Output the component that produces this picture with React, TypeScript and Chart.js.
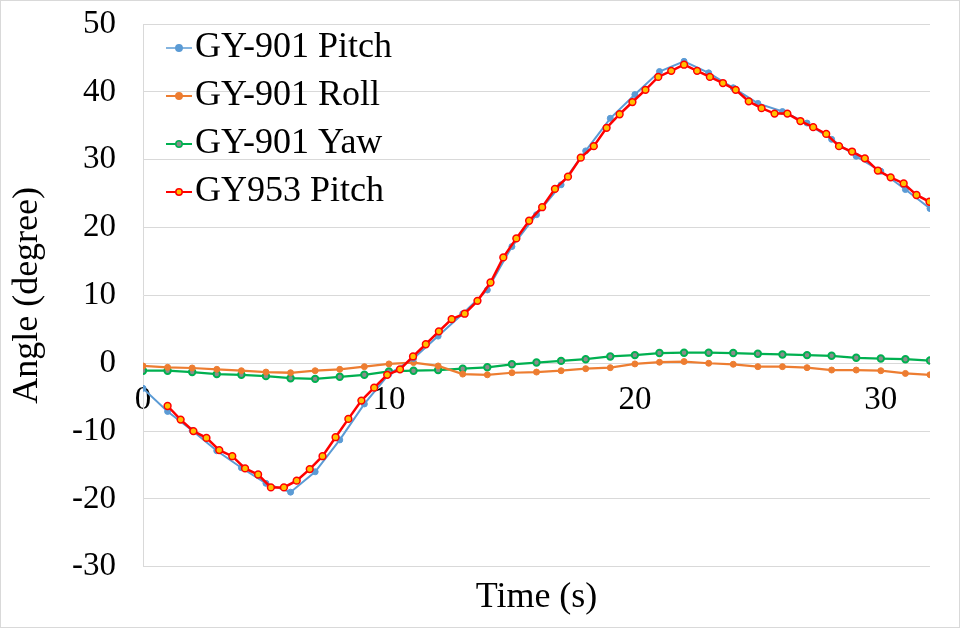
import React, { useEffect, useRef } from "react";
import Chart from "chart.js/auto";

// GY-901 samples, one per second
const timeS = [0, 1, 2, 3, 4, 5, 6, 7, 8, 9, 10, 11, 12, 13, 14, 15, 16, 17, 18, 19, 20, 21, 22, 23, 24, 25, 26, 27, 28, 29, 30, 31, 32];
const pitch901 = [-3.7, -7.1, -9.9, -12.9, -15.4, -17.7, -19.0, -16.0, -11.3, -6.0, -1.6, 0.7, 4.0, 7.3, 10.8, 17.2, 21.9, 26.3, 31.3, 36.1, 39.6, 43.0, 44.5, 42.8, 40.6, 38.3, 37.1, 35.4, 33.0, 30.5, 28.3, 25.6, 22.8];
const roll901 = [-0.4, -0.6, -0.7, -0.9, -1.1, -1.3, -1.4, -1.1, -0.9, -0.5, -0.1, 0.1, -0.4, -1.6, -1.7, -1.4, -1.3, -1.1, -0.8, -0.65, -0.1, 0.15, 0.25, 0.0, -0.15, -0.5, -0.5, -0.65, -1.0, -1.0, -1.1, -1.5, -1.7];
const yaw901 = [-1.1, -1.1, -1.3, -1.6, -1.7, -1.9, -2.2, -2.3, -2.0, -1.7, -1.2, -1.1, -1.0, -0.8, -0.6, -0.15, 0.1, 0.35, 0.6, 1.0, 1.2, 1.5, 1.55, 1.55, 1.5, 1.4, 1.3, 1.2, 1.1, 0.8, 0.7, 0.6, 0.4];

// GY953 samples (faster rate)
const time953 = [1.0, 1.53, 2.05, 2.58, 3.1, 3.63, 4.15, 4.68, 5.2, 5.73, 6.25, 6.78, 7.3, 7.83, 8.35, 8.88, 9.4, 9.93, 10.45, 10.98, 11.5, 12.03, 12.55, 13.08, 13.6, 14.13, 14.65, 15.18, 15.7, 16.23, 16.75, 17.28, 17.8, 18.33, 18.85, 19.38, 19.9, 20.43, 20.95, 21.48, 22.0, 22.53, 23.05, 23.58, 24.1, 24.63, 25.15, 25.68, 26.2, 26.73, 27.25, 27.78, 28.3, 28.83, 29.35, 29.88, 30.4, 30.93, 31.45, 31.98];
const pitch953 = [-6.3, -8.3, -10.0, -11.0, -12.8, -13.7, -15.5, -16.4, -18.3, -18.3, -17.3, -15.6, -13.7, -10.9, -8.2, -5.5, -3.6, -1.7, -0.9, 1.0, 2.8, 4.7, 6.5, 7.3, 9.2, 11.9, 15.6, 18.4, 21.0, 23.0, 25.7, 27.5, 30.3, 32.0, 34.7, 36.7, 38.5, 40.3, 42.2, 43.1, 44.0, 43.1, 42.2, 41.3, 40.3, 38.6, 37.6, 36.8, 36.8, 35.7, 34.8, 33.8, 32.0, 31.2, 30.2, 28.4, 27.4, 26.5, 24.8, 23.8];

const xTicks = [0, 10, 20, 30];
const yTicks = [-30, -20, -10, 0, 10, 20, 30, 40, 50];

const SERIF = '"Liberation Serif", "Times New Roman", serif';
const GRID = "#d9d9d9";

// small line + marker picture for the legend
function legendMarker(line: string, fill: string, border: string, lw: number) {
  const c = document.createElement("canvas");
  c.width = 70;
  c.height = 14;
  const g = c.getContext("2d")!;
  const cx = 42;
  g.strokeStyle = line;
  g.lineWidth = lw;
  g.beginPath();
  g.moveTo(cx - 13, 7);
  g.lineTo(cx + 13, 7);
  g.stroke();
  g.beginPath();
  g.arc(cx, 7, 3.2, 0, Math.PI * 2);
  g.fillStyle = fill;
  g.fill();
  g.lineWidth = 1.5;
  g.strokeStyle = border;
  g.stroke();
  return c;
}

const legendShift = {
  id: "legendShift",
  afterLayout(chart: any) {
    const lg = chart.legend;
    if (!lg) return;
    lg.left = chart.chartArea.left + 12;
    lg.right = lg.left + lg.width;
    lg.top = chart.chartArea.top - 6;
    lg.bottom = lg.top + lg.height;
  },
};

const AngleChart = () => {
  const chartRef = useRef<HTMLCanvasElement>(null);

  useEffect(() => {
    const ctx = chartRef.current!.getContext("2d")!;
    const markers = [
      legendMarker("#5B9BD5", "#5B9BD5", "#5B9BD5", 1.5),
      legendMarker("#ED7D31", "#ED7D31", "#ED7D31", 2),
      legendMarker("#00B050", "#8C8C8C", "#00B050", 2),
      legendMarker("#FF0000", "#FFC000", "#FF0000", 2),
    ];

    const myChart = new Chart(ctx, {
      type: "line",
      data: {
        datasets: [
          {
            label: "GY-901 Pitch",
            data: timeS.map((t, i) => ({ x: t, y: pitch901[i] })),
            borderColor: "#5B9BD5",
            backgroundColor: "#5B9BD5",
            borderWidth: 2,
            pointRadius: 3,
            pointBackgroundColor: "#5B9BD5",
            pointBorderColor: "#5B9BD5",
            pointBorderWidth: 1,
            order: 1,
          },
          {
            label: "GY-901 Roll",
            data: timeS.map((t, i) => ({ x: t, y: roll901[i] })),
            borderColor: "#ED7D31",
            backgroundColor: "#ED7D31",
            borderWidth: 2.25,
            pointRadius: 3,
            pointBackgroundColor: "#ED7D31",
            pointBorderColor: "#ED7D31",
            pointBorderWidth: 1,
            order: 1,
          },
          {
            label: "GY-901 Yaw",
            data: timeS.map((t, i) => ({ x: t, y: yaw901[i] })),
            borderColor: "#00B050",
            backgroundColor: "#8C8C8C",
            borderWidth: 2.25,
            pointRadius: 3.2,
            pointBackgroundColor: "#8C8C8C",
            pointBorderColor: "#00B050",
            pointBorderWidth: 2,
            order: 1,
          },
          {
            label: "GY953 Pitch",
            data: time953.map((t, i) => ({ x: t, y: pitch953[i] })),
            borderColor: "#FF0000",
            backgroundColor: "#FFC000",
            borderWidth: 2.5,
            pointRadius: 3.4,
            pointBackgroundColor: "#FFC000",
            pointBorderColor: "#FF0000",
            pointBorderWidth: 1.5,
            order: 0,
          },
        ],
      },
      options: {
        responsive: false,
        animation: false,
        layout: { padding: { top: 24, right: 30, bottom: 0, left: 0 } },
        elements: { line: { tension: 0 } },
        scales: {
          x: {
            type: "linear",
            position: { y: 0 },
            min: 0,
            max: 32,
            afterBuildTicks: (s: any) => {
              s.ticks = xTicks.map((v) => ({ value: v }));
            },
            grid: { display: false, drawTicks: false },
            border: { display: true, color: GRID, width: 1 },
            ticks: {
              color: "#000",
              font: { family: SERIF, size: 33 },
              padding: 17,
              maxRotation: 0,
            },
          },
          y: {
            type: "linear",
            min: -30,
            max: 50,
            afterBuildTicks: (s: any) => {
              s.ticks = yTicks.map((v) => ({ value: v }));
            },
            afterFit: (s: any) => {
              s.width = 143;
              // keep the label padding from pushing the plot down
              s.paddingTop = 0;
              s.paddingBottom = 0;
            },
            grid: { color: GRID, lineWidth: 1, drawTicks: false },
            border: { display: true, color: GRID, width: 1 },
            ticks: {
              color: "#000",
              font: { family: SERIF, size: 33 },
              padding: 27,
            },
            title: {
              display: true,
              text: "Angle (degree)",
              color: "#000",
              font: { family: SERIF, size: 36 },
              padding: { top: 6, bottom: 0 },
            },
          },
        },
        plugins: {
          tooltip: { enabled: false },
          title: {
            display: true,
            text: "Time (s)",
            position: "bottom",
            fullSize: false,
            color: "#000",
            font: { family: SERIF, size: 36, weight: "normal" },
            padding: { top: 9, bottom: 9 },
          },
          legend: {
            position: "chartArea",
            align: "start",
            labels: {
              color: "#000",
              font: { family: SERIF, size: 36 },
              usePointStyle: true,
              pointStyleWidth: 10,
              padding: 12,
              sort: (a: any, b: any) => a.datasetIndex - b.datasetIndex,
              generateLabels: (chart: any) =>
                Chart.defaults.plugins.legend.labels
                  .generateLabels(chart)
                  .map((item: any) => ({ ...item, pointStyle: markers[item.datasetIndex] })),
            },
          },
        },
      } as any,
      plugins: [legendShift],
    });

    return () => {
      myChart.destroy();
    };
  }, []);

  return (
    <div
      style={{
        position: "fixed",
        left: 0,
        top: 0,
        width: 960,
        height: 628,
        background: "#fff",
      }}
    >
      <canvas ref={chartRef} width={960} height={628} style={{ display: "block" }}></canvas>
      <div
        style={{
          position: "absolute",
          inset: 0,
          border: "1px solid #d9d9d9",
          pointerEvents: "none",
        }}
      ></div>
    </div>
  );
};

export default function App() {
  return <AngleChart />;
}
